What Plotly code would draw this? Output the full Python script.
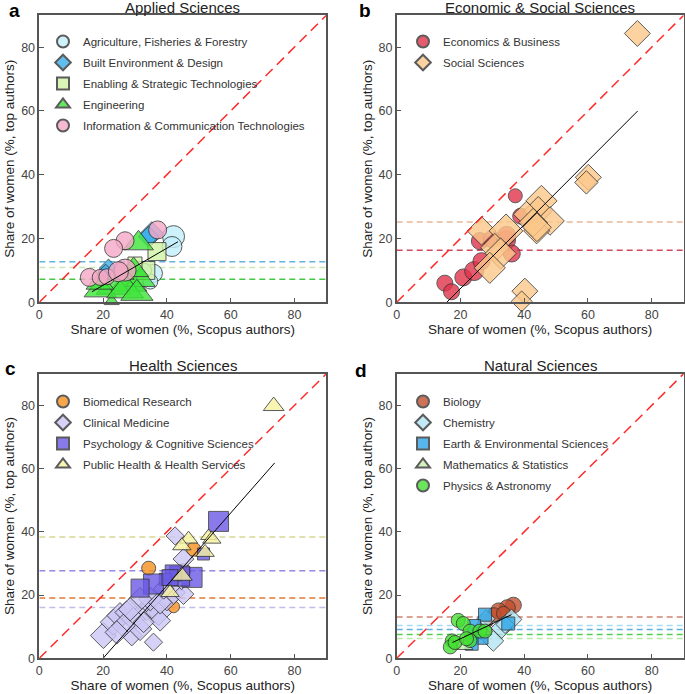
import plotly.graph_objects as go

FONT = "Liberation Sans, Arial, sans-serif"

# ---------------- Panel a: Applied Sciences ----------------
agri_x = [42.1, 41.6, 35.8, 34.8, 33.0]
agri_y = [20.6, 17.5, 9.1, 6.5, 10.0]
agri_s = [22, 20, 18, 15, 14]
built_x = [35.3, 34.3, 21.7, 20.8]
built_y = [21.6, 20.6, 10.7, 9.5]
built_s = [18, 16, 14, 12]
enab_x = [36.9, 33.4, 30.0]
enab_y = [15.9, 10.0, 12.0]
enab_s = [18, 18, 14]
eng_x = [31.1, 28.0, 23.3, 19.1, 31.7, 29.6, 25.4, 22.7, 26.9, 30.6, 19.0]
eng_y = [18.5, 6.0, 4.9, 3.9, 7.0, 10.1, 9.1, 0.3, 3.9, 2.8, 6.0]
eng_s = [26, 32, 30, 28, 26, 26, 24, 13, 32, 28, 24]
ict_x = [37.1, 26.9, 23.3, 15.7, 19.1, 21.2, 26.9, 24.8]
ict_y = [22.7, 19.3, 16.9, 7.8, 7.8, 8.0, 10.1, 9.6]
ict_s = [18, 18, 18, 18, 16, 16, 22, 20]
reg_a_x = [16.5, 43.5]
reg_a_y = [3.3, 19.0]
mean_a = [12.7, 10.9, 7.2]

# ---------------- Panel b: Economic & Social Sciences ----------------
econ_x = [15.1, 17.2, 20.9, 24.3, 26.6, 26.1, 29.8, 34.3, 36.1, 37.2, 38.9, 34.5]
econ_y = [6.0, 3.3, 7.8, 9.8, 12.9, 19.2, 19.8, 19.5, 15.3, 33.4, 27.0, 21.0]
econ_s = [16, 16, 17, 19, 17, 17, 17, 19, 17, 14, 16, 18]
soc_x = [75.5, 60.1, 59.5, 45.4, 44.4, 40.7, 48.1, 43.9, 42.8, 26.6, 34.3, 30.8, 32.6, 29.2, 40.2, 39.2, 44.0]
soc_y = [84.3, 39.2, 37.6, 31.8, 28.7, 27.6, 25.5, 22.4, 25.0, 22.4, 22.4, 17.1, 15.3, 10.8, 3.5, 0.3, 23.5]
soc_s = [20, 20, 18, 24, 22, 20, 22, 20, 22, 22, 26, 22, 24, 24, 20, 16, 22]
reg_b_x = [15.7, 75.6]
reg_b_y = [0.0, 60.0]
mean_b = [25.2, 16.3]

# ---------------- Panel c: Health Sciences ----------------
bio_x = [34.3, 48.4, 45.3, 42.1]
bio_y = [28.5, 34.5, 27.7, 16.3]
bio_s = [14, 14, 14, 12]
clin_x = [20.1, 23.2, 25.3, 27.4, 29.5, 29.0, 31.6, 33.7, 35.8, 37.4, 37.9, 35.8, 40.0,
          42.1, 45.2, 44.6, 45.2, 42.6, 34.8, 26.4, 32.7, 24.3, 31.6, 37.9, 39.0, 28.5]
clin_y = [7.2, 11.4, 13.5, 14.5, 12.4, 7.2, 9.3, 15.6, 16.6, 14.5, 11.9, 5.1, 18.7,
          20.8, 20.3, 25.0, 31.4, 38.7, 18.7, 10.3, 11.4, 8.2, 18.7, 17.7, 22.0, 15.5]
clin_s = [20, 20, 20, 18, 18, 16, 18, 18, 20, 20, 16, 14, 18,
          18, 16, 16, 16, 14, 18, 18, 16, 18, 18, 18, 16, 18]
psych_x = [56.2, 51.5, 47.9, 44.0, 42.0, 39.5, 35.8, 31.6, 41.0]
psych_y = [43.3, 33.0, 25.6, 26.0, 27.0, 25.0, 23.5, 22.2, 25.5]
psych_s = [20, 12, 20, 20, 16, 12, 20, 18, 16]
pub_x = [73.5, 46.8, 44.7, 53.1, 54.1, 52.0, 44.7, 41.0]
pub_y = [79.8, 37.7, 35.6, 38.7, 37.7, 33.5, 26.1, 20.8]
pub_s = [18, 16, 16, 14, 16, 16, 18, 16]
reg_c_x = [20.0, 73.8]
reg_c_y = [0.0, 61.8]
mean_c = [38.4, 27.7, 19.1, 16.1]

# ---------------- Panel d: Natural Sciences ----------------
biol_x = [36.6, 34.7, 32.0, 30.5, 28.0, 33.5]
biol_y = [16.8, 16.0, 15.0, 13.8, 11.7, 14.2]
biol_s = [16, 16, 16, 14, 14, 14]
chem_x = [36.0, 32.9, 30.3, 26.6, 34.0, 28.0]
chem_y = [12.3, 9.6, 5.5, 9.1, 10.7, 12.5]
chem_s = [16, 16, 16, 16, 14, 14]
earth_x = [27.7, 35.0, 26.6, 23.5, 24.3]
earth_y = [13.8, 11.0, 6.5, 4.6, 10.2]
earth_s = [13, 13, 13, 13, 13]
math_x = [21.4, 27.5]
math_y = [3.9, 8.5]
math_s = [14, 12]
phys_x = [17.4, 16.8, 19.3, 20.9, 23.0, 26.1, 27.7, 23.0, 18.3, 21.9]
phys_y = [5.5, 3.6, 12.0, 11.0, 8.6, 8.6, 8.6, 5.6, 5.0, 6.2]
phys_s = [14, 14, 14, 14, 14, 14, 14, 14, 14, 14]
reg_d_x = [17.5, 36.0]
reg_d_y = [5.0, 13.8]
mean_d = [13.1, 10.4, 9.1, 7.5, 6.3]

ticks = [0, 20, 40, 60, 80]
diag = [0, 90]

W, H = 685, 694
fig = go.Figure()

panels = {
    "a": dict(ax="", leg="legend",
              series=[("Agriculture, Fisheries & Forestry", agri_x, agri_y, agri_s, "circle", "#c2effb"),
                      ("Built Environment & Design", built_x, built_y, built_s, "diamond", "#38aeea"),
                      ("Enabling & Strategic Technologies", enab_x, enab_y, enab_s, "square", "#d2f4a6"),
                      ("Engineering", eng_x, eng_y, eng_s, "triangle-up", "#3ee63a"),
                      ("Information & Communication Technologies", ict_x, ict_y, ict_s, "circle", "#f6a8c8")],
              means=list(zip(mean_a, ["#60b4e0", "#cce8b4", "#46c846"])),
              reg=(reg_a_x, reg_a_y)),
    "b": dict(ax="2", leg="legend2",
              series=[("Economics & Business", econ_x, econ_y, econ_s, "circle", "#e2334b"),
                      ("Social Sciences", soc_x, soc_y, soc_s, "diamond", "#fcc88a")],
              means=list(zip(mean_b, ["#e6b896", "#d04a60"])),
              reg=(reg_b_x, reg_b_y)),
    "c": dict(ax="3", leg="legend3",
              series=[("Biomedical Research", bio_x, bio_y, bio_s, "circle", "#f7901e"),
                      ("Clinical Medicine", clin_x, clin_y, clin_s, "diamond", "#ccc6f5"),
                      ("Psychology & Cognitive Sciences", psych_x, psych_y, psych_s, "square", "#6b5ae6"),
                      ("Public Health & Health Services", pub_x, pub_y, pub_s, "triangle-up", "#f7f2a0")],
              means=list(zip(mean_c, ["#d8d894", "#9688e4", "#e07a30", "#c4bce8"])),
              reg=(reg_c_x, reg_c_y)),
    "d": dict(ax="4", leg="legend4",
              series=[("Biology", biol_x, biol_y, biol_s, "circle", "#c2502e"),
                      ("Chemistry", chem_x, chem_y, chem_s, "diamond", "#b2e4f5"),
                      ("Earth & Environmental Sciences", earth_x, earth_y, earth_s, "square", "#2ea6e8"),
                      ("Mathematics & Statistics", math_x, math_y, math_s, "triangle-up", "#c8f0b0"),
                      ("Physics & Astronomy", phys_x, phys_y, phys_s, "circle", "#44e032")],
              means=list(zip(mean_d, ["#d08474", "#a8daf0", "#5eb0e0", "#50d050", "#bce8ac"])),
              reg=(reg_d_x, reg_d_y)),
}

for key, p in panels.items():
    xa, ya = "x" + p["ax"], "y" + p["ax"]
    for m, c in p["means"]:
        fig.add_trace(go.Scatter(x=[0, 90], y=[m, m], mode="lines", xaxis=xa, yaxis=ya,
                                 line=dict(color=c, width=1.5, dash="6px,4px"),
                                 showlegend=False, hoverinfo="skip"))
    for name, xs, ys, ss, sym, col in p["series"]:
        fig.add_trace(go.Scatter(x=xs, y=ys, mode="markers", name=name, xaxis=xa, yaxis=ya,
                                 legend=p["leg"], legendgroup=key + name, cliponaxis=False,
                                 marker=dict(symbol=sym, size=ss, color=col, opacity=0.8,
                                             line=dict(color="#333333", width=1))))
    rx, ry = p["reg"]
    fig.add_trace(go.Scatter(x=rx, y=ry, mode="lines", xaxis=xa, yaxis=ya,
                             line=dict(color="black", width=1), showlegend=False, hoverinfo="skip"))
    fig.add_trace(go.Scatter(x=diag, y=diag, mode="lines", xaxis=xa, yaxis=ya,
                             line=dict(color="#ff2a2a", width=1.5, dash="10px,6px"),
                             showlegend=False, hoverinfo="skip"))

xdom_left = [39.3 / W, 326.3 / W]
xdom_right = [396.7 / W, 683.6 / W]
ydom_top = [1 - 302.3 / H, 1 - 15.3 / H]
ydom_bot = [1 - 658.3 / H, 1 - 373.8 / H]

axis_common = dict(range=[0, 90], tickvals=ticks, ticks="inside", ticklen=5, tickwidth=1,
                   tickcolor="#555", showline=True, linecolor="#555", linewidth=1.5, mirror=True,
                   showgrid=False, zeroline=False, automargin=False,
                   tickfont=dict(family=FONT, size=12.5, color="#444"))
xt = dict(text="Share of women (%, Scopus authors)", font=dict(family=FONT, size=13.5, color="#222"), standoff=2)
yt = dict(text="Share of women (%, top authors)", font=dict(family=FONT, size=13.5, color="#222"), standoff=3)

layout = dict(width=W, height=H, margin=dict(l=0, r=0, t=0, b=0, autoexpand=False),
              plot_bgcolor="white", paper_bgcolor="white", font=dict(family=FONT))
for ax, xd, yd in [("", xdom_left, ydom_top), ("2", xdom_right, ydom_top),
                   ("3", xdom_left, ydom_bot), ("4", xdom_right, ydom_bot)]:
    layout["xaxis" + ax] = dict(axis_common, domain=xd, anchor="y" + ax, title=xt)
    layout["yaxis" + ax] = dict(axis_common, domain=yd, anchor="x" + ax, title=yt)

leg_common = dict(bgcolor="rgba(0,0,0,0)", itemsizing="constant", xanchor="left", yanchor="top",
                  font=dict(family=FONT, size=11.5, color="#333"), tracegroupgap=2)
layout["legend"] = dict(leg_common, x=43 / W, y=1 - 27 / H)
layout["legend2"] = dict(leg_common, x=(400 + 3) / W, y=1 - 27 / H)
layout["legend3"] = dict(leg_common, x=43 / W, y=1 - 387 / H)
layout["legend4"] = dict(leg_common, x=(400 + 3) / W, y=1 - 387 / H)

fig.update_layout(**layout)

titles = [("Applied Sciences", 182.8, 8), ("Economic & Social Sciences", 540, 8),
          ("Health Sciences", 182.8, 365), ("Natural Sciences", 540, 365)]
for t, x, y in titles:
    fig.add_annotation(text=t, x=x / W, y=1 - y / H, xref="paper", yref="paper",
                       showarrow=False, xanchor="center", yanchor="middle",
                       font=dict(family=FONT, size=15, color="#222"))
letters = [("a", 14, 11), ("b", 365, 11), ("c", 10, 368), ("d", 361, 370)]
for t, x, y in letters:
    fig.add_annotation(text="<b>" + t + "</b>", x=x / W, y=1 - y / H, xref="paper", yref="paper",
                       showarrow=False, xanchor="center", yanchor="middle",
                       font=dict(family=FONT, size=19, color="black"))

fig.write_html("out.html", config={"displayModeBar": False},
               post_script="document.body.style.margin='0';document.body.style.overflow='hidden';")
